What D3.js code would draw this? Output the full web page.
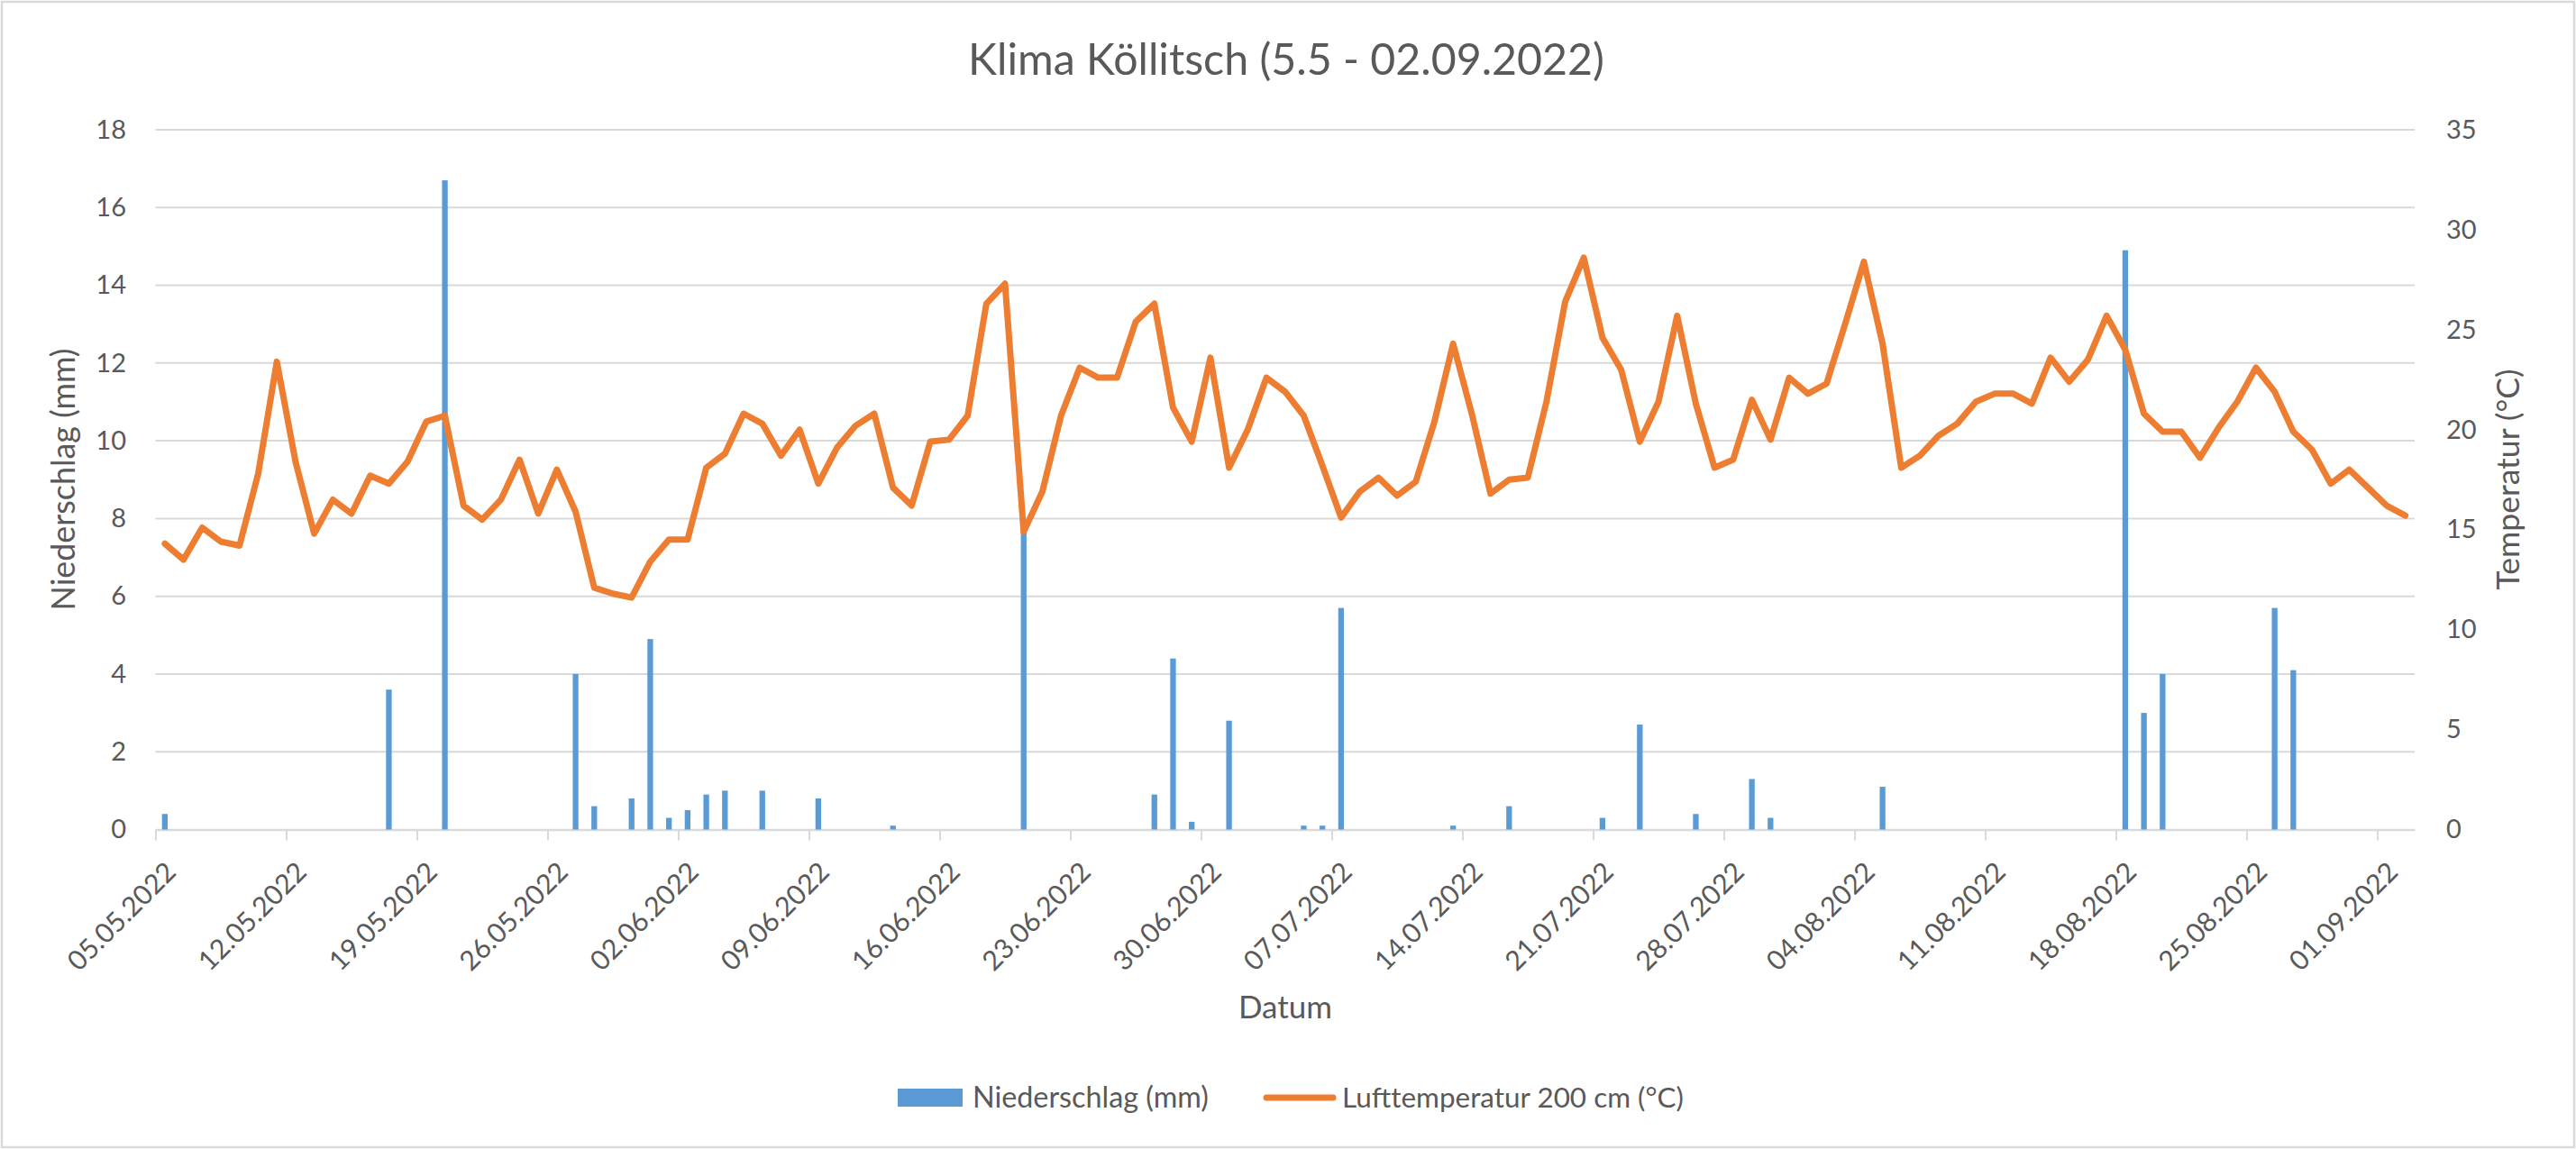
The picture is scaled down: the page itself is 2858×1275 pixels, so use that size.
<!DOCTYPE html>
<html><head><meta charset="utf-8">
<script src="https://cdn.jsdelivr.net/npm/d3@7"></script>
<style>
body{margin:0;background:#fff;}
svg{display:block;}
text{font-family:Lato,"Open Sans",sans-serif;fill:#595959;}
</style>
</head><body>
<svg id="chart" width="2858" height="1275"></svg>
<script>
// ---------- DATA ----------
const chartTitle = "Klima Köllitsch (5.5 - 02.09.2022)";
const xTitle = "Datum";
const yLeftTitle = "Niederschlag (mm)";
const yRightTitle = "Temperatur (°C)";
const seriesNames = ["Niederschlag (mm)", "Lufttemperatur 200 cm (°C)"];

const tickLabels = ["05.05.2022","12.05.2022","19.05.2022","26.05.2022","02.06.2022","09.06.2022",
  "16.06.2022","23.06.2022","30.06.2022","07.07.2022","14.07.2022","21.07.2022","28.07.2022",
  "04.08.2022","11.08.2022","18.08.2022","25.08.2022","01.09.2022"];
const leftTicks = [0,2,4,6,8,10,12,14,16,18];
const rightTicks = [0,5,10,15,20,25,30,35];

// daily values 05.05.2022 ... 02.09.2022 (121 days)
const precipitation = [
  0.4,0,0,0,0,0,0,0,0,0,
  0,0,3.6,0,0,16.7,0,0,0,0,
  0,0,4.0,0.6,0,0.8,4.9,0.3,0.5,0.9,
  1.0,0,1.0,0,0,0.8,0,0,0,0.1,
  0,0,0,0,0,0,7.8,0,0,0,
  0,0,0,0.9,4.4,0.2,0,2.8,0,0,
  0,0.1,0.1,5.7,0,0,0,0,0,0.1,
  0,0,0.6,0,0,0,0,0.3,0,2.7,
  0,0,0.4,0,0,1.3,0.3,0,0,0,
  0,0,1.1,0,0,0,0,0,0,0,
  0,0,0,0,0,14.9,3.0,4.0,0,0,
  0,0,0,5.7,4.1,0,0,0,0,0,
  0
];
const temperature = [
  14.3,13.5,15.1,14.4,14.2,17.8,23.4,18.4,14.8,16.5,
  15.8,17.7,17.3,18.4,20.4,20.7,16.2,15.5,16.5,18.5,
  15.8,18.0,15.9,12.1,11.8,11.6,13.4,14.5,14.5,18.1,
  18.8,20.8,20.3,18.7,20.0,17.3,19.1,20.2,20.8,17.1,
  16.2,19.4,19.5,20.7,26.3,27.3,14.9,16.9,20.7,23.1,
  22.6,22.6,25.4,26.3,21.1,19.4,23.6,18.1,20.0,22.6,
  21.9,20.7,18.2,15.6,16.9,17.6,16.7,17.4,20.4,24.3,
  20.8,16.8,17.5,17.6,21.4,26.4,28.6,24.6,23.0,19.4,
  21.4,25.7,21.3,18.1,18.5,21.5,19.5,22.6,21.8,22.3,
  25.3,28.4,24.3,18.1,18.7,19.7,20.3,21.4,21.8,21.8,
  21.3,23.6,22.4,23.5,25.7,24.0,20.8,19.9,19.9,18.6,
  20.1,21.4,23.1,21.9,19.9,19.0,17.3,18.0,17.1,16.2,
  15.7
];

// ---------- LAYOUT ----------
const W = 2858, H = 1275;
const P = {left:172.5, right:2679, top:144, bottom:920.5};
const barColor = "#5B9BD5", lineColor = "#ED7D31", gridColor = "#D9D9D9";

const svg = d3.select("#chart");
svg.append("rect").attr("x",2).attr("y",2).attr("width",W-4).attr("height",H-4)
  .attr("fill","#fff").attr("stroke",gridColor).attr("stroke-width",2.5);

const nDays = temperature.length;
const x = d3.scaleLinear().domain([0, nDays]).range([P.left, P.right]);
const yL = d3.scaleLinear().domain([0,18]).range([P.bottom, P.top]);
const yR = d3.scaleLinear().domain([0,35]).range([P.bottom, P.top]);

function fit(sel, target){
  sel.each(function(){
    const t = d3.select(this);
    const fs = parseFloat(t.style("font-size"));
    const w = this.getComputedTextLength();
    if (w>0) t.style("font-size", (fs*target/w)+"px");
  });
}

// gridlines
svg.append("g").selectAll("line").data(leftTicks.filter(d=>d>0)).join("line")
  .attr("x1",P.left).attr("x2",P.right)
  .attr("y1",d=>yL(d)).attr("y2",d=>yL(d))
  .attr("stroke",gridColor).attr("stroke-width",2);

// left axis
const gL = svg.append("g").attr("transform",`translate(${P.left},0)`)
  .call(d3.axisLeft(yL).tickValues(leftTicks).tickSize(0).tickPadding(32.5));
gL.select(".domain").remove();
gL.selectAll("text").style("font-family","Lato").style("font-size","29px").attr("fill","#595959");
// right axis
const gR = svg.append("g").attr("transform",`translate(${P.right},0)`)
  .call(d3.axisRight(yR).tickValues(rightTicks).tickSize(0).tickPadding(35));
gR.select(".domain").remove();
gR.selectAll("text").style("font-family","Lato").style("font-size","29px").attr("fill","#595959");

// bottom axis
const gB = svg.append("g").attr("transform",`translate(0,${P.bottom})`)
  .call(d3.axisBottom(x).tickValues(d3.range(0, nDays-1, 7))
    .tickFormat((d,i)=>tickLabels[i]).tickSize(12).tickSizeOuter(0));
gB.select(".domain").attr("stroke",gridColor).attr("stroke-width",2.5);
gB.selectAll(".tick line").attr("stroke",gridColor).attr("stroke-width",2);
const dateTexts = gB.selectAll(".tick text")
  .attr("text-anchor","end").attr("fill","#595959")
  .attr("y",null).attr("dy",null)
  .attr("transform","translate(24,49) rotate(-45)")
  .style("font-family","Lato").style("font-size","30px");
{
  const n = dateTexts.node();
  const w = n.getComputedTextLength();
  dateTexts.style("font-size", (30*155/w)+"px");
}

// bars
svg.append("g").selectAll("rect").data(precipitation.map((v,i)=>({v,i})).filter(d=>d.v>0)).join("rect")
  .attr("x",d=>x(d.i+0.5)-3.15).attr("width",6.3)
  .attr("y",d=>yL(d.v)).attr("height",d=>P.bottom-yL(d.v))
  .attr("fill",barColor);

// line
svg.append("path").datum(temperature)
  .attr("d", d3.line().x((d,i)=>x(i+0.5)).y(d=>yR(d)))
  .attr("fill","none").attr("stroke",lineColor).attr("stroke-width",7)
  .attr("stroke-linejoin","round").attr("stroke-linecap","round");

// titles
const t = svg.append("text").attr("x",1427).attr("y",83).attr("text-anchor","middle")
  .style("font-size","48px").text(chartTitle);
fit(t, 706);
const tx = svg.append("text").attr("x",1426).attr("y",1130).attr("text-anchor","middle")
  .style("font-size","34px").text(xTitle);
fit(tx, 104);
const tl = svg.append("text").attr("transform","translate(83,532) rotate(-90)").attr("text-anchor","middle")
  .style("font-size","34px").text(yLeftTitle);
fit(tl, 291);
const tr = svg.append("text").attr("transform","translate(2795,532) rotate(-90)").attr("text-anchor","middle")
  .style("font-size","34px").text(yRightTitle);
fit(tr, 245);

// legend
const lg = svg.append("g");
lg.append("rect").attr("x",996).attr("y",1208).attr("width",72).attr("height",20).attr("fill",barColor);
const l1 = lg.append("text").attr("x",1079).attr("y",1218).attr("dy","0.35em").style("font-size","31px").text(seriesNames[0]);
fit(l1, 262);
lg.append("line").attr("x1",1405).attr("x2",1479).attr("y1",1218).attr("y2",1218)
  .attr("stroke",lineColor).attr("stroke-width",7).attr("stroke-linecap","round");
const l2 = lg.append("text").attr("x",1489).attr("y",1218).attr("dy","0.35em").style("font-size","31px").text(seriesNames[1]);
fit(l2, 379);
</script>
</body></html>
